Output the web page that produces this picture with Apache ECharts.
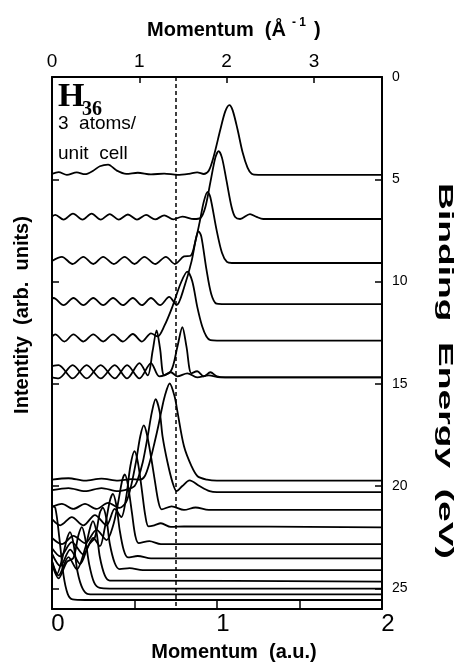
<!DOCTYPE html>
<html>
<head>
<meta charset="utf-8">
<script src="https://cdn.jsdelivr.net/npm/echarts@6/dist/echarts.min.js"></script>
<style>
  html, body { margin: 0; padding: 0; background: #fff; }
  #chart { width: 461px; height: 662px; }
</style>
</head>
<body>
<div id="chart"></div>
<script>
// Binding energy (eV) of each curve's baseline, top to bottom
const baseE = [4.78, 6.94, 9.09, 11.1, 12.88, 14.68, 14.68,
               19.73, 20.29, 21.16, 22.01, 22.83, 23.53, 24.10, 24.66, 25.00, 25.29, 25.56];

// Momentum distributions: [momentum (a.u.), intensity above baseline (eV units)]
const mdc01 = [[0,0.05],[0.04,0.13],[0.09,0.0],[0.15,0.12],[0.2,0.03],[0.25,0.2],[0.29,0.42],[0.34,0.5],[0.39,0.22],[0.45,0.05],[0.52,0.1],[0.6,0.02],[0.68,0.06],[0.76,0.0],[0.83,0.05],[0.88,0.12],[0.92,0.04],[0.95,0.2],[0.98,0.9],[1.02,2.2],[1.05,3.1],[1.075,3.41],[1.095,3.15],[1.125,2.2],[1.155,1.1],[1.185,0.35],[1.21,0.05],[1.25,0],[2,0]];
const mdc02 = [[0,0.12],[0.02,0.2],[0.07,-0.03],[0.127,0.26],[0.185,-0.03],[0.24,0.26],[0.295,-0.03],[0.35,0.24],[0.405,-0.03],[0.46,0.22],[0.515,-0.03],[0.57,0.2],[0.625,-0.02],[0.68,0.18],[0.735,-0.02],[0.79,0.12],[0.86,0.0],[0.9,0.05],[0.93,0.6],[0.96,1.8],[0.99,3.0],[1.01,3.32],[1.03,3.0],[1.057,1.9],[1.088,0.6],[1.11,0.1],[1.14,0.0],[1.2,0.24],[1.24,0.1],[1.28,0],[2,0]];
const mdc03 = [[0,0.1],[0.06,0.3],[0.125,-0.05],[0.19,0.3],[0.25,-0.05],[0.31,0.3],[0.375,-0.05],[0.44,0.3],[0.5,-0.05],[0.56,0.3],[0.625,-0.05],[0.69,0.3],[0.745,-0.05],[0.8,0.32],[0.84,0.35],[0.87,1.1],[0.894,1.96],[0.92,3.0],[0.943,3.48],[0.96,3.2],[0.997,1.63],[1.03,0.5],[1.06,0.05],[1.09,0],[2,0]];
const mdc04 = [[0,0.25],[0.01,0.3],[0.07,-0.05],[0.13,0.3],[0.19,-0.05],[0.25,0.3],[0.31,-0.05],[0.37,0.3],[0.43,-0.05],[0.49,0.3],[0.545,-0.05],[0.6,0.3],[0.655,-0.05],[0.71,0.35],[0.755,-0.05],[0.8,0.8],[0.846,2.1],[0.875,3.3],[0.889,3.56],[0.905,3.3],[0.936,1.7],[0.965,0.5],[0.997,0.02],[1.03,0],[2,0]];
const mdc05 = [[0,0.2],[0.02,0.3],[0.075,-0.05],[0.13,0.3],[0.19,-0.05],[0.25,0.3],[0.31,-0.05],[0.37,0.3],[0.43,-0.05],[0.49,0.32],[0.545,-0.05],[0.6,0.35],[0.64,0.2],[0.68,0.7],[0.73,1.66],[0.78,2.8],[0.82,3.37],[0.85,2.9],[0.88,1.66],[0.91,0.7],[0.936,0.2],[0.96,0.02],[1.0,0],[2,0]];
const mdc06a = [[0,0.55],[0.04,0.6],[0.125,-0.05],[0.21,0.6],[0.295,-0.05],[0.38,0.6],[0.455,-0.05],[0.53,0.7],[0.58,0.1],[0.61,1.3],[0.634,2.3],[0.655,1.4],[0.68,0.1],[0.72,0.25],[0.76,0.05],[0.82,0.2],[0.88,0.0],[0.95,0.1],[1.02,0],[2,0]];
const mdc06b = [[0,0.0],[0.04,-0.05],[0.125,0.6],[0.21,-0.05],[0.295,0.6],[0.38,-0.05],[0.455,0.6],[0.53,-0.05],[0.6,0.7],[0.65,0.05],[0.72,0.3],[0.76,1.5],[0.79,2.45],[0.815,1.5],[0.845,0.2],[0.88,0.3],[0.92,0.05],[0.96,0.25],[1.0,0.05],[1.05,0],[2,0]];
const mdc07 = [[0,0.05],[0.1,0.12],[0.2,0.0],[0.3,0.1],[0.4,0.0],[0.48,0.08],[0.53,0.05],[0.562,0.22],[0.592,0.9],[0.622,1.88],[0.645,2.7],[0.665,3.49],[0.683,4.12],[0.713,4.75],[0.743,4.12],[0.761,3.34],[0.8,1.68],[0.846,0.7],[0.882,0.22],[0.94,0.05],[1.0,0],[2,0]];
const mdc08 = [[0,0.1],[0.1,0.2],[0.2,0.05],[0.3,0.2],[0.4,0.05],[0.46,0.15],[0.5,0.3],[0.52,0.63],[0.55,1.46],[0.58,2.73],[0.605,3.9],[0.628,4.54],[0.653,3.9],[0.67,2.73],[0.7,1.46],[0.73,0.49],[0.755,0.05],[0.79,0.3],[0.834,0.58],[0.894,0.3],[0.955,0.05],[1.0,0],[2,0]];
const mdc09 = [[0,0.15],[0.06,0.3],[0.13,0.05],[0.2,0.3],[0.27,0.05],[0.34,0.35],[0.41,0.1],[0.45,0.4],[0.48,1.2],[0.51,2.4],[0.535,3.6],[0.556,4.13],[0.575,3.7],[0.6,2.6],[0.622,1.5],[0.645,0.4],[0.665,0.03],[0.725,0.18],[0.8,0.0],[0.87,0.12],[0.95,0],[2,0]];
const mdc10 = [[0,0.4],[0.05,0.1],[0.12,0.5],[0.19,0.1],[0.26,0.6],[0.33,0.1],[0.38,0.9],[0.42,0.5],[0.45,1.5],[0.475,3.0],[0.5,3.72],[0.52,3.2],[0.545,1.8],[0.565,0.6],[0.585,0.05],[0.62,0.1],[0.66,0.2],[0.72,0.02],[0.8,0.05],[2,0]];
const mdc11 = [[0,0.3],[0.06,0.0],[0.13,0.4],[0.2,0.05],[0.27,0.7],[0.33,0.2],[0.37,0.9],[0.4,2.0],[0.425,3.1],[0.441,3.41],[0.46,2.9],[0.485,1.5],[0.505,0.4],[0.525,0.05],[0.59,0.15],[0.66,0.0],[2,0]];
const mdc12 = [[0,0.5],[0.05,0.1],[0.12,0.8],[0.19,0.2],[0.25,1.0],[0.29,0.6],[0.32,1.5],[0.35,2.8],[0.369,3.16],[0.39,2.6],[0.41,1.4],[0.435,0.4],[0.46,0.05],[0.52,0.12],[0.6,0],[2,0]];
const mdc13 = [[0,0.8],[0.05,0.2],[0.11,1.0],[0.17,0.3],[0.22,1.2],[0.26,1.6],[0.29,2.8],[0.308,3.05],[0.33,2.5],[0.35,1.3],[0.38,0.35],[0.41,0.05],[0.47,0.1],[0.55,0],[2,0]];
const mdc14 = [[0,1.0],[0.04,0.3],[0.1,1.2],[0.15,0.6],[0.2,1.6],[0.23,2.6],[0.248,2.95],[0.27,2.4],[0.29,1.2],[0.32,0.3],[0.35,0.05],[0.42,0.05],[2,0]];
const mdc15 = [[0,1.2],[0.04,0.5],[0.09,1.3],[0.13,1.5],[0.16,2.6],[0.181,3.0],[0.2,2.5],[0.225,1.2],[0.255,0.3],[0.29,0.03],[0.35,0],[2,0]];
const mdc16 = [[0,1.6],[0.03,1.0],[0.06,1.7],[0.09,2.7],[0.109,3.05],[0.13,2.5],[0.155,1.1],[0.185,0.3],[0.22,0.02],[0.3,0],[2,0]];
const mdc17 = [[0,4.6],[0.02,4.5],[0.045,3.0],[0.07,1.2],[0.095,0.3],[0.125,0.03],[0.2,0],[2,0]];

const profiles = [mdc01, mdc02, mdc03, mdc04, mdc05, mdc06a, mdc06b,
                  mdc07, mdc08, mdc09, mdc10, mdc11, mdc12, mdc13, mdc14, mdc15, mdc16, mdc17];

// Fermi momentum marker (a.u.)
const kF = 0.75;
// Axis ranges and labelled ticks
const kMaxAU = 2;
const invAngPerAU = 1.8897;
const bottomTicks = [0, 1, 2];
const topTicks = [0, 1, 2, 3];
const energyTicks = [0, 5, 10, 15, 20, 25];
const eMax = 26;

const sans = '"Liberation Sans", Arial, Helvetica, sans-serif';
const serif = '"Liberation Serif", "Times New Roman", serif';

const chart = echarts.init(document.getElementById('chart'), null, { renderer: 'canvas' });

const series = profiles.map((pts, i) => ({
  type: 'line',
  xAxisIndex: 0,
  yAxisIndex: 0,
  data: pts.map(([k, h]) => [k, baseE[i] - h]),
  smooth: 0.3,
  symbol: 'none',
  silent: true,
  clip: true,
  lineStyle: { color: '#000', width: 1.8 }
}));

series[0].markLine = {
  silent: true,
  symbol: ['none', 'none'],
  label: { show: false },
  lineStyle: { color: '#000', width: 1.5, type: [4, 3] },
  data: [{ xAxis: kF }]
};

const frameLine = { show: true, onZero: false, lineStyle: { color: '#000', width: 2 } };
const tickStyle = (len) => ({ inside: true, length: len, lineStyle: { color: '#000', width: 1.5 } });

chart.setOption({
  animation: false,
  backgroundColor: '#fff',
  grid: { left: 52, top: 77, width: 330, height: 532 },
  xAxis: [
    {
      type: 'value', position: 'bottom', min: 0, max: kMaxAU, interval: 0.5,
      axisLine: frameLine, axisTick: tickStyle(8), splitLine: { show: false },
      axisLabel: {
        color: '#000', fontFamily: sans, fontSize: 24, margin: 3, padding: [0, 0, 0, 12],
        formatter: (v) => (bottomTicks.includes(v) ? String(v) : '')
      }
    },
    {
      type: 'value', position: 'top', min: 0, max: kMaxAU * invAngPerAU, interval: 1,
      axisLine: frameLine, axisTick: tickStyle(6), splitLine: { show: false },
      axisLabel: {
        color: '#000', fontFamily: sans, fontSize: 19, margin: 6, showMaxLabel: false,
        formatter: (v) => (topTicks.includes(v) ? String(v) : '')
      }
    }
  ],
  yAxis: [
    {
      type: 'value', position: 'right', inverse: true, min: 0, max: eMax, interval: 5,
      axisLine: frameLine, axisTick: tickStyle(7), splitLine: { show: false },
      axisLabel: {
        color: '#000', fontFamily: sans, fontSize: 14, margin: 10, showMaxLabel: false,
        formatter: (v) => (energyTicks.includes(v) ? String(v) : '')
      }
    },
    {
      type: 'value', position: 'left', inverse: true, min: 0, max: eMax, interval: 5,
      axisLine: frameLine, axisTick: tickStyle(7), splitLine: { show: false },
      axisLabel: { show: false }
    }
  ],
  graphic: [
    { type: 'text', x: 147, y: 30, style: { text: 'Momentum  (Å', font: 'bold 20px ' + sans, fill: '#000', textAlign: 'left', textVerticalAlign: 'middle' } },
    { type: 'text', x: 292, y: 23, style: { text: '- 1', font: 'bold 12px ' + sans, fill: '#000', textAlign: 'left', textVerticalAlign: 'middle' } },
    { type: 'text', x: 314, y: 30, style: { text: ')', font: 'bold 20px ' + sans, fill: '#000', textAlign: 'left', textVerticalAlign: 'middle' } },
    { type: 'text', x: 234, y: 652, style: { text: 'Momentum  (a.u.)', font: 'bold 20px ' + sans, fill: '#000', textAlign: 'center', textVerticalAlign: 'middle' } },
    { type: 'text', x: 445, y: 371, rotation: -Math.PI / 2, scaleX: 1.77, style: { text: 'Binding  Energy  (eV)', font: 'bold 21px ' + sans, fill: '#000', textAlign: 'center', textVerticalAlign: 'middle' } },
    { type: 'text', x: 22, y: 315, rotation: Math.PI / 2, style: { text: 'Intentity  (arb.  units)', font: 'bold 20px ' + sans, fill: '#000', textAlign: 'center', textVerticalAlign: 'middle' } },
    { type: 'text', x: 58, y: 97, style: { text: 'H', font: 'bold 34px ' + serif, fill: '#000', textAlign: 'left', textVerticalAlign: 'middle' } },
    { type: 'text', x: 82, y: 110, style: { text: '36', font: 'bold 20px ' + serif, fill: '#000', textAlign: 'left', textVerticalAlign: 'middle' } },
    { type: 'text', x: 58, y: 124, style: { text: '3  atoms/', font: '19px ' + sans, fill: '#000', textAlign: 'left', textVerticalAlign: 'middle' } },
    { type: 'text', x: 58, y: 154, style: { text: 'unit  cell', font: '19px ' + sans, fill: '#000', textAlign: 'left', textVerticalAlign: 'middle' } }
  ],
  series: series
});
</script>
</body>
</html>
